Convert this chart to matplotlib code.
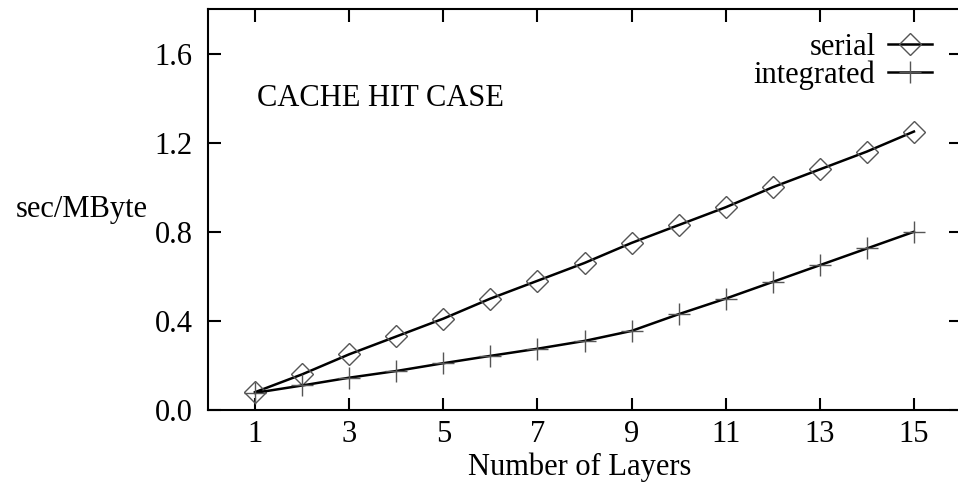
import numpy as np
import matplotlib.pyplot as plt

plt.rcParams['font.family'] = ['Liberation Serif', 'DejaVu Serif']

# data
layers = np.arange(1, 16)
serial = [0.08, 0.16, 0.25, 0.33, 0.41, 0.50, 0.58, 0.66, 0.75, 0.83,
          0.91, 1.00, 1.08, 1.16, 1.25]
integrated = [0.077, 0.11, 0.145, 0.175, 0.21, 0.243, 0.275, 0.31, 0.355, 0.43,
              0.50, 0.575, 0.65, 0.725, 0.80]
xticks = [1, 3, 5, 7, 9, 11, 13, 15]
yticks = [0.0, 0.4, 0.8, 1.2, 1.6]

fs = 22

fig = plt.figure(figsize=(9.58, 4.86), dpi=100)
ax = fig.add_axes([208 / 958, 76 / 486, 753 / 958, 401 / 486])

ax.plot(layers, serial, color='black', lw=1.8, marker='D', ms=11,
        mfc='none', mec='#555555', mew=1.0, label='serial')
ax.plot(layers, integrated, color='black', lw=1.8, marker='+', ms=16,
        mec='#555555', mew=1.0, label='integrated')

ax.set_xlim(0, 16)
ax.set_ylim(0, 1.8)
ax.set_xticks(xticks)
ax.set_yticks(yticks)
ax.set_yticklabels([f'{v:.1f}' for v in yticks])
ax.tick_params(direction='in', length=9, width=1.5, top=True, right=True,
               labelsize=fs)
ax.tick_params(axis='x', pad=7)
ax.tick_params(axis='y', pad=11)
for s in ax.spines.values():
    s.set_linewidth(1.5)

ax.set_xlabel('Number of Layers', fontsize=fs)
ax.xaxis.set_label_coords(0.493, -0.107)
ax.set_ylabel('sec/MByte', fontsize=fs, rotation=0, ha='right', va='center')
ax.yaxis.set_label_coords(-0.08, 0.5)

ax.text(1.04, 1.366, 'CACHE HIT CASE', fontsize=fs)

ax.legend(loc='upper right', bbox_to_anchor=(0.9615, 0.94),
          frameon=False, markerfirst=False, fontsize=fs, handlelength=1.45,
          handletextpad=0.4, labelspacing=-0.06, borderpad=0.0,
          borderaxespad=0.0)

fig.savefig('out.png', dpi=100)
